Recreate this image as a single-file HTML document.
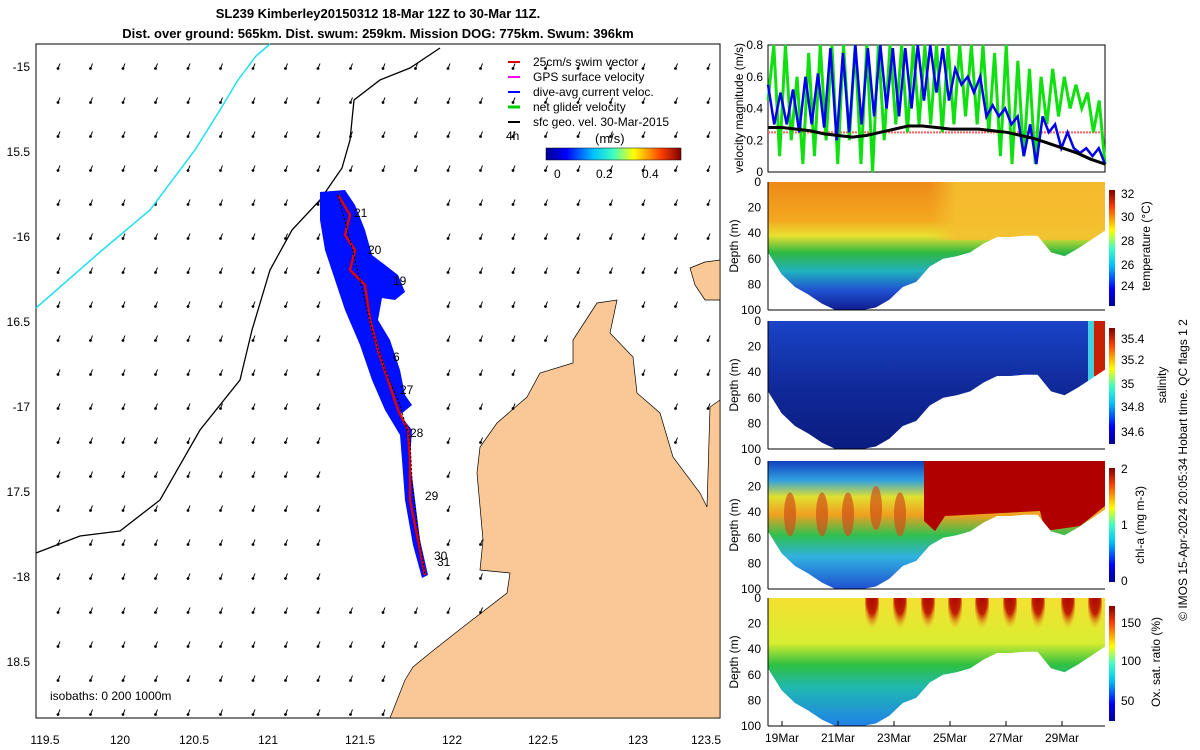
<!DOCTYPE html>
<html><head><meta charset="utf-8"><style>
body{margin:0;background:#fff;font-family:"Liberation Sans",sans-serif}
svg{display:block}
text{font-family:"Liberation Sans",sans-serif;font-size:12px;fill:#000}
</style></head><body>
<svg id="s" width="1200" height="750" viewBox="0 0 1200 750">
<defs>
<linearGradient id="jet" x1="0" y1="1" x2="0" y2="0">
<stop offset="0" stop-color="#00008f"/><stop offset="0.15" stop-color="#0000ff"/><stop offset="0.35" stop-color="#00c0ff"/><stop offset="0.5" stop-color="#40ffc0"/><stop offset="0.65" stop-color="#ffff00"/><stop offset="0.85" stop-color="#ff4000"/><stop offset="1" stop-color="#800000"/></linearGradient>
<linearGradient id="jeth" x1="0" y1="0" x2="1" y2="0">
<stop offset="0" stop-color="#00008f"/><stop offset="0.15" stop-color="#0000ff"/><stop offset="0.35" stop-color="#00c0ff"/><stop offset="0.5" stop-color="#40ffc0"/><stop offset="0.65" stop-color="#ffff00"/><stop offset="0.85" stop-color="#ff4000"/><stop offset="1" stop-color="#800000"/></linearGradient>
<linearGradient id="gT" x1="0" y1="0" x2="0" y2="1"><stop offset="0" stop-color="#ee8a18"/><stop offset="0.3" stop-color="#f4a820"/><stop offset="0.42" stop-color="#e8e030"/><stop offset="0.55" stop-color="#30b840"/><stop offset="0.7" stop-color="#20b0c0"/><stop offset="0.85" stop-color="#2050d0"/><stop offset="1" stop-color="#101c90"/></linearGradient>
<linearGradient id="gTr" x1="0" y1="0" x2="1" y2="0"><stop offset="0" stop-color="#f4c030" stop-opacity="0"/><stop offset="0.15" stop-color="#f4c030" stop-opacity="0.9"/><stop offset="1" stop-color="#f4c030" stop-opacity="0.9"/></linearGradient>
<linearGradient id="gS" x1="0" y1="0" x2="0" y2="1"><stop offset="0" stop-color="#1a44c8"/><stop offset="0.5" stop-color="#102a9a"/><stop offset="1" stop-color="#0a1c80"/></linearGradient>
<linearGradient id="gC" x1="0" y1="0" x2="0" y2="1"><stop offset="0" stop-color="#1040c0"/><stop offset="0.15" stop-color="#30a0e0"/><stop offset="0.28" stop-color="#e0e030"/><stop offset="0.42" stop-color="#f0a020"/><stop offset="0.58" stop-color="#30c050"/><stop offset="0.75" stop-color="#30b0e0"/><stop offset="1" stop-color="#2050d0"/></linearGradient>
<linearGradient id="gO" x1="0" y1="0" x2="0" y2="1"><stop offset="0" stop-color="#f4e030"/><stop offset="0.35" stop-color="#d8ee30"/><stop offset="0.52" stop-color="#30c040"/><stop offset="0.7" stop-color="#20b8b0"/><stop offset="1" stop-color="#2080e8"/></linearGradient>
<radialGradient id="tongue" cx="0.5" cy="0.2" r="0.7"><stop offset="0" stop-color="#a80000"/><stop offset="0.6" stop-color="#c02000"/><stop offset="1" stop-color="#f0a020" stop-opacity="0"/></radialGradient>
<clipPath id="c0"><rect x="768" y="182" width="337" height="128"/></clipPath>
<clipPath id="c1"><rect x="768" y="321" width="337" height="128"/></clipPath>
<clipPath id="c2"><rect x="768" y="461" width="337" height="128"/></clipPath>
<clipPath id="c3"><rect x="768" y="598" width="337" height="128"/></clipPath>
</defs>
<g>
<rect x="36" y="44" width="684" height="674" fill="#fff" stroke="#000"/>
<polygon fill="#f9c896" stroke="#000" stroke-width="0.7" points="720,718 390,718 405,680 413,667 430,653 463,627 507,593 510,573 480,570 483,540 477,473 480,447 497,423 527,397 540,373 573,363 573,340 597,303 617,300 610,333 633,357 637,393 660,413 673,457 700,493 707,507 710,407 720,400"/>
<polygon fill="#f9c896" stroke="#000" stroke-width="0.7" points="690,268 705,262 720,260 720,300 705,300 695,285"/>
<g id="arrows"></g>
<polyline fill="none" stroke="#000" stroke-width="1.3" points="36,553 80,536 120,531 160,500 200,430 240,380 252,330 270,270 292,230 320,200 342,168 350,140 354,100 380,80 410,68 440,48"/>
<polyline fill="none" stroke="#20e0f0" stroke-width="1.5" points="36,308 100,252 150,210 195,150 220,110 238,80 256,56 270,44"/>
<polygon fill="#0010ff" points="320,192 345,190 355,205 365,230 372,255 398,275 405,292 395,300 382,298 378,320 390,340 400,370 405,395 412,405 400,415 412,430 410,460 415,500 420,540 428,575 422,578 413,545 405,500 402,460 400,435 385,410 372,380 360,345 345,310 335,280 325,250 320,220"/>
<polyline fill="none" stroke="#e00000" stroke-width="2.5" points="338,195 350,215 345,235 355,250 350,270 365,285 370,320 378,350 388,380 398,410 408,430 410,460 410,500 418,540 425,575"/>
<polyline fill="none" stroke="#000" stroke-width="1" stroke-dasharray="2,2" points="338,195 350,240 360,280 372,330 385,370 400,405 410,440 412,480 418,530 425,575"/>
<g>
<text x="354" y="217">21</text><text x="368" y="254">20</text><text x="393" y="285">19</text><text x="393" y="361">6</text><text x="400" y="394">27</text><text x="410" y="437">28</text><text x="425" y="500">29</text><text x="434" y="560">30</text><text x="437" y="566">31</text></g>
<text x="50" y="700">isobaths: 0   200   1000m</text>
<g id="mapticks"></g>
<g>
<line x1="508" y1="62" x2="520" y2="62" stroke="#e00000" stroke-width="2"/><text x="533" y="66">25cm/s swim vector</text>
<line x1="508" y1="77" x2="520" y2="77" stroke="#ff00ff" stroke-width="2"/><text x="533" y="81">GPS surface velocity</text>
<line x1="508" y1="92" x2="520" y2="92" stroke="#0000ff" stroke-width="2"/><text x="533" y="96">dive-avg current veloc.</text>
<line x1="508" y1="107" x2="520" y2="107" stroke="#00d000" stroke-width="3"/><text x="533" y="111">net glider velocity</text>
<line x1="508" y1="122" x2="520" y2="122" stroke="#000" stroke-width="2"/><text x="533" y="126">sfc geo. vel. 30-Mar-2015</text>
<text x="506" y="140">4h</text>
</g>
<g>
<text x="595" y="143" style="font-size:13px">(m/s)</text>
<rect x="546" y="148" width="135" height="12" fill="url(#jeth)" stroke="#000" stroke-width="0.5"/>
<text x="554" y="178">0</text><text x="596" y="178">0.2</text><text x="642" y="178">0.4</text></g>
<text x="378" y="18" text-anchor="middle" style="font-weight:bold;font-size:13px">SL239 Kimberley20150312 18-Mar 12Z to 30-Mar 11Z.</text>
<text x="378" y="38" text-anchor="middle" style="font-weight:bold;font-size:13px">Dist. over ground: 565km. Dist. swum: 259km. Mission DOG: 775km. Swum: 396km</text>
</g>
<g id="right">
<rect x="768" y="45" width="337" height="127" fill="#fff" stroke="#000"/>
<g id="vel"></g>
<text transform="translate(743,108) rotate(-90)" text-anchor="middle" style="font-size:12px">velocity magnitude (m/s)</text>
<g id="sections"></g>
<text transform="translate(1187,470) rotate(-90)" text-anchor="middle">© IMOS 15-Apr-2024 20:05:34 Hobart time. QC flags 1  2</text>
</g>
</svg>
<script>
const NS="http://www.w3.org/2000/svg";
function mk(tag,attrs,parent){const e=document.createElementNS(NS,tag);for(const k in attrs)e.setAttribute(k,attrs[k]);parent.appendChild(e);return e;}
const lonLabels=["119.5","120","120.5","121","121.5","122","122.5","123","123.5"];
const lonPx=[45,120,194,268,360,452,543,638,706];
const latLabels=["-15","15.5","-16","16.5","-17","17.5","-18","18.5"];
const mt=document.getElementById('mapticks');
lonLabels.forEach((l,i)=>{const t=mk('text',{x:lonPx[i],y:744,'text-anchor':'middle','font-size':'13'},mt);t.textContent=l;});
latLabels.forEach((l,i)=>{const y=66+i*85;const t=mk('text',{x:30,y:y+5,'text-anchor':'end','font-size':'13'},mt);t.textContent=l;});
const landPoly=[[720,718],[390,718],[405,680],[413,667],[430,653],[463,627],[507,593],[510,573],[480,570],[483,540],[477,473],[480,447],[497,423],[527,397],[540,373],[573,363],[573,340],[597,303],[617,300],[610,333],[633,357],[637,393],[660,413],[673,457],[700,493],[707,507],[710,407],[720,400]];
function inPoly(x,y,p){let c=false;for(let i=0,j=p.length-1;i<p.length;j=i++){const [xi,yi]=p[i],[xj,yj]=p[j];if(((yi>y)!=(yj>y))&&(x<(xj-xi)*(y-yi)/(yj-yi)+xi))c=!c;}return c;}
const ag=document.getElementById('arrows');
for(let r=0;r<20;r++)for(let c=0;c<21;c++){
 const x=60+c*32.5,y=66+r*34;
 if(x>712||y>712)continue;
 if(inPoly(x,y,landPoly))continue;
 if(x>680&&y>255&&y<305)continue;
 if(x>330&&x<425&&y>188&&y<580)continue;
 const dx=-2,dy=5;
 const a=mk('line',{x1:x,y1:y-dy/2,x2:x+dx,y2:y+dy/2,stroke:'#000','stroke-width':1},ag);
 
 
 mk('circle',{cx:x+dx,cy:y+dy/2,r:1.4,fill:'#000'},ag);
}
// velocity panel data
const green=[0.45,0.8,0.1,0.8,0.2,0.6,0.05,0.75,0.1,0.8,0.2,0.8,0.05,0.8,0.2,0.8,0.05,0.8,0.0,0.8,0.2,0.8,0.3,0.8,0.25,0.8,0.3,0.8,0.3,0.8,0.25,0.8,0.3,0.8,0.35,0.8,0.3,0.8,0.25,0.75,0.1,0.8,0.05,0.7,0.1,0.65,0.05,0.6,0.3,0.65,0.35,0.6,0.4,0.55,0.4,0.5,0.25,0.45,0.05];
const blue=[0.55,0.3,0.5,0.3,0.52,0.25,0.6,0.3,0.62,0.28,0.78,0.2,0.75,0.25,0.8,0.3,0.78,0.35,0.8,0.4,0.78,0.35,0.78,0.4,0.8,0.45,0.8,0.5,0.78,0.45,0.65,0.55,0.6,0.5,0.6,0.35,0.42,0.35,0.4,0.3,0.35,0.1,0.3,0.05,0.35,0.25,0.3,0.15,0.25,0.15,0.12,0.15,0.1,0.15,0.05];
const black=[0.28,0.28,0.27,0.26,0.24,0.23,0.22,0.23,0.25,0.27,0.29,0.29,0.28,0.27,0.27,0.27,0.26,0.25,0.23,0.21,0.18,0.15,0.12,0.08,0.05];
const velTicks=[0,0.2,0.4,0.6,0.8];
const vg=document.getElementById('vel');
const VX0=768,VW=337;
const vx=(i,n)=>VX0+i*VW/(n-1), vy=v=>172-v/0.8*127;
velTicks.forEach(v=>{const t=mk('text',{x:763,y:vy(v)+4,'text-anchor':'end','font-size':'12'},vg);t.textContent=v===0?'0':v.toString();});
mk('line',{x1:VX0,y1:vy(0.25),x2:VX0+VW,y2:vy(0.25),stroke:'#ff6060','stroke-dasharray':'2,1','stroke-width':2},vg);
[[green,'#10e010',3],[blue,'#0000f0',2.5],[black,'#000',3]].forEach(([d,col,w])=>{
 const p=mk('polyline',{fill:'none',stroke:col,'stroke-width':w,points:d.map((v,i)=>vx(i,d.length)+','+vy(v)).join(' ')},vg);
 
 
});
// sections
const maxDepth=[55,72,82,88,95,100,100,100,98,92,82,78,66,60,58,55,48,43,43,42,42,55,58,52,45,38];
const dateLabels=["19Mar","21Mar","23Mar","25Mar","27Mar","29Mar"];
const datePx=[782,838,894,950,1006,1062];
const panels=[
 {y:182,g:'gT',name:'temperature',title:'temperature (°C)',tx:1150,cb:[190,306],ticks:["32","30","28","26","24"],tp:[193,216,240,264,285]},
 {y:321,g:'gS',name:'salinity',title:'salinity',tx:1166,cb:[328,444],ticks:["35.4","35.2","35","34.8","34.6"],tp:[338,359,383,406,431]},
 {y:461,g:'gC',name:'chlorophyll',title:'chl-a (mg m-3)',tx:1144,cb:[468,582],ticks:["2","1","0"],tp:[468,524,580]},
 {y:598,g:'gO',name:'oxygen',title:'Ox. sat. ratio (%)',tx:1160,cb:[606,721],ticks:["150","100","50"],tp:[622,660,700]}];
const tongues=[872,900,928,955,982,1010,1038,1068,1095];
const sg=document.getElementById('sections');
panels.forEach((p,k)=>{
 const g=mk('g',{},sg);
 
 
 const H=128;
 const cg=mk('g',{'clip-path':'url(#c'+k+')'},g);
 mk('rect',{x:VX0,y:p.y,width:VW,height:H,fill:'url(#'+p.g+')'},cg);
 if(k===0){mk('rect',{x:930,y:p.y,width:175,height:58,fill:'url(#gTr)'},cg);}
 if(k===1){mk('rect',{x:1088,y:p.y,width:17,height:H,fill:'#40d0e0'},cg);mk('rect',{x:1094,y:p.y,width:11,height:55,fill:'#c82000'},cg);}
 if(k===2){mk('path',{d:'M924 '+p.y+' L1105 '+p.y+' L1105 '+(p.y+45)+' L1080 '+(p.y+65)+' L1045 '+(p.y+70)+' L1040 '+(p.y+50)+' L945 '+(p.y+55)+' L935 '+(p.y+70)+' L924 '+(p.y+60)+'Z',fill:'#b00000'},cg);
  [[790,30],[822,30],[848,30],[876,25],[900,30]].forEach(([x,d])=>mk('ellipse',{cx:x,cy:p.y+d/100*H+15,rx:6,ry:22,fill:'#d05018',opacity:0.7},cg));}
 if(k===3){tongues.forEach(x=>mk('ellipse',{cx:x,cy:p.y+10,rx:7,ry:26,fill:'url(#tongue)'},cg));}
 const pts=maxDepth.map((d,i)=>(VX0+i*VW/(maxDepth.length-1))+','+(p.y+d/100*H));
 mk('polygon',{points:VX0+','+(p.y+H+2)+' '+pts.join(' ')+' '+(VX0+VW)+','+(p.y+H+2),fill:'#fff'},cg);
 mk('line',{x1:VX0,y1:p.y+H,x2:VX0+VW,y2:p.y+H,stroke:'#000'},g);
 mk('line',{x1:VX0,y1:p.y,x2:VX0,y2:p.y+H,stroke:'#000'},g);
 [0,20,40,60,80,100].forEach(d=>{const t=mk('text',{x:761,y:p.y+d/100*H+4,'text-anchor':'end','font-size':'12'},g);t.textContent=d;});
 const yt=mk('text',{transform:'translate(738,'+(p.y+64)+') rotate(-90)','text-anchor':'middle','font-size':'12'},g);yt.textContent='Depth (m)';
 mk('rect',{x:1109,y:p.cb[0],width:6,height:p.cb[1]-p.cb[0],fill:'url(#jet)'},g);
 p.ticks.forEach((t,i)=>{const e=mk('text',{x:1121,y:p.tp[i]+5,'font-size':'13'},g);e.textContent=t;});
 const ct=mk('text',{transform:'translate('+p.tx+','+(p.y+64)+') rotate(-90)','text-anchor':'middle','font-size':'14'},g);ct.textContent=p.title;
});
dateLabels.forEach((l,i)=>{
 mk('line',{x1:datePx[i],y1:726,x2:datePx[i],y2:721,stroke:'#000'},sg);
 const t=mk('text',{x:datePx[i],y:742,'text-anchor':'middle','font-size':'12'},sg);t.textContent=l;});
</script>
</body></html>
